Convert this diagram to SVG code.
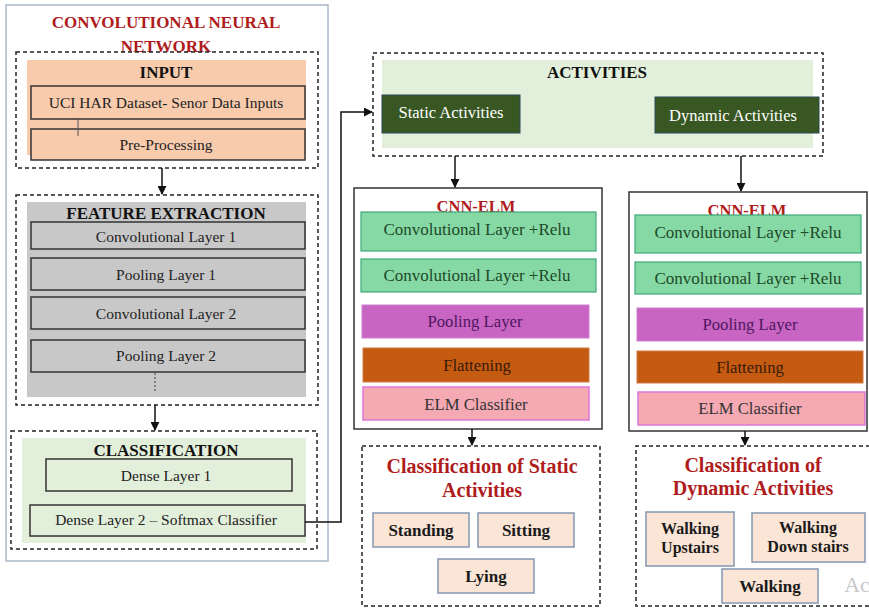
<svg xmlns="http://www.w3.org/2000/svg" width="869" height="608" viewBox="0 0 869 608">
<defs>
<marker id="ah" viewBox="0 0 10 10" refX="9" refY="5" markerWidth="6" markerHeight="6" orient="auto"><path d="M0,0 L10,5 L0,10 z" fill="#111"/></marker>
<style>
text{font-family:"Liberation Serif","DejaVu Serif",serif;text-anchor:middle;dominant-baseline:central;}
.dash{fill:none;stroke:#222;stroke-width:1.5;stroke-dasharray:4 3;}
.red{fill:#b01c1c;font-weight:bold;}
.hd{fill:#111;font-weight:bold;font-size:17px;}
.bx{stroke:#333;stroke-width:1.5;}
.t{font-size:15.5px;fill:#222;}
.cr{fill:#86d9a4;stroke:#3fa87a;stroke-width:1.2;}
.crt{font-size:17px;fill:#1d4a2a;}
.ly{font-size:16.7px;}
.act{fill:#fbe5d6;stroke:#8497b0;stroke-width:1.5;}
.actt{font-size:17px;font-weight:bold;fill:#1a1a1a;}
.actw{font-size:16px;font-weight:bold;fill:#1a1a1a;}
.ln{fill:none;stroke:#111;stroke-width:1.5;}
</style>
</defs>
<rect x="0" y="0" width="869" height="608" fill="#ffffff"/>
<g id="cnn">
<rect x="6" y="5" width="322" height="556" fill="#fff" stroke="#a9b8c8" stroke-width="1.5"/>
<text x="166" y="22" class="red" font-size="17">CONVOLUTIONAL NEURAL</text>
<text x="166" y="46" class="red" font-size="17">NETWORK</text>
</g>
<g id="input">
<rect x="16" y="52" width="302" height="116" class="dash"/>
<rect x="27" y="60" width="279" height="95" fill="#f8cbad"/>
<text x="166" y="72" class="hd">INPUT</text>
<rect x="31" y="86" width="274" height="33" fill="#f8cbad" class="bx"/>
<text x="166" y="102" class="t">UCI HAR Dataset- Senor Data Inputs</text>
<rect x="31" y="129" width="274" height="31" fill="#f8cbad" class="bx"/>
<text x="166" y="144" class="t">Pre-Processing</text>
<line x1="78" y1="118" x2="78" y2="136" stroke="#555" stroke-width="1"/>
</g>
<g id="feature">
<rect x="16" y="195" width="302" height="210" class="dash"/>
<rect x="27" y="202" width="279" height="195" fill="#c8c8c8"/>
<text x="166" y="213" class="hd">FEATURE EXTRACTION</text>
<rect x="31" y="222" width="274" height="27" fill="#c8c8c8" class="bx"/>
<text x="166" y="236" class="t">Convolutional Layer 1</text>
<rect x="31" y="258" width="274" height="32" fill="#c8c8c8" class="bx"/>
<text x="166" y="274" class="t">Pooling Layer 1</text>
<rect x="31" y="297" width="274" height="32" fill="#c8c8c8" class="bx"/>
<text x="166" y="313" class="t">Convolutional Layer 2</text>
<rect x="31" y="340" width="274" height="32" fill="#c8c8c8" class="bx"/>
<text x="166" y="355" class="t">Pooling Layer 2</text>
<line x1="155" y1="373" x2="155" y2="393" stroke="#555" stroke-width="1.2" stroke-dasharray="2 2"/>
</g>
<g id="classification">
<rect x="11" y="431" width="306" height="118" class="dash"/>
<rect x="22" y="438" width="284" height="105" fill="#e2efda"/>
<text x="166" y="450" class="hd">CLASSIFICATION</text>
<rect x="46" y="459" width="246" height="32" fill="#e2efda" class="bx"/>
<text x="166" y="475" class="t">Dense Layer 1</text>
<rect x="30" y="505" width="275" height="31" fill="#e2efda" class="bx"/>
<text x="166" y="519" class="t">Dense Layer 2 – Softmax Classifier</text>
</g>
<g id="activities">
<rect x="373" y="53" width="450" height="103" class="dash"/>
<rect x="382" y="60" width="431" height="88" fill="#e2efda"/>
<text x="597" y="72" class="hd">ACTIVITIES</text>
<rect x="382" y="95" width="138" height="38" fill="#385723" stroke="#2a4a5a" stroke-width="1"/>
<text x="451" y="112" font-size="16.5" fill="#fff">Static Activities</text>
<rect x="655" y="97" width="164" height="36" fill="#385723" stroke="#2a4a5a" stroke-width="1"/>
<text x="733" y="115" font-size="16.5" fill="#fff">Dynamic Activities</text>
</g>
<g id="cnnelm-static">
<rect x="354" y="188" width="248" height="241" fill="#fff" stroke="#333" stroke-width="1.5"/>
<text x="476" y="206" class="red" font-size="16.5">CNN-ELM</text>
<rect x="361" y="212" width="235" height="39" class="cr"/>
<text x="477" y="229" class="crt">Convolutional  Layer +Relu</text>
<rect x="361" y="259" width="235" height="33" class="cr"/>
<text x="477" y="275" class="crt">Convolutional  Layer +Relu</text>
<rect x="362" y="305" width="227" height="33" fill="#c865c2" stroke="#d07fcc" stroke-width="1"/>
<text x="475" y="321" class="ly" fill="#4f1660">Pooling Layer</text>
<rect x="363" y="348" width="226" height="34" fill="#c55a11" stroke="#d27a4a" stroke-width="1"/>
<text x="477" y="365" class="ly" fill="#3a1a08">Flattening</text>
<rect x="363" y="387" width="226" height="33" fill="#f4a9b3" stroke="#dd77d6" stroke-width="1.5"/>
<text x="476" y="404" class="ly" fill="#333">ELM Classifier</text>
</g>
<g id="cnnelm-dynamic">
<rect x="629" y="192" width="238" height="239" fill="#fff" stroke="#333" stroke-width="1.5"/>
<text x="747" y="210" class="red" font-size="16.5">CNN-ELM</text>
<rect x="635" y="215" width="226" height="38" class="cr"/>
<text x="748" y="232" class="crt">Convolutional Layer +Relu</text>
<rect x="635" y="262" width="226" height="32" class="cr"/>
<text x="748" y="278" class="crt">Convolutional Layer +Relu</text>
<rect x="637" y="308" width="226" height="33" fill="#c865c2" stroke="#d07fcc" stroke-width="1"/>
<text x="750" y="324" class="ly" fill="#4f1660">Pooling Layer</text>
<rect x="637" y="351" width="226" height="32" fill="#c55a11" stroke="#d27a4a" stroke-width="1"/>
<text x="750" y="367" class="ly" fill="#3a1a08">Flattening</text>
<rect x="638" y="392" width="227" height="33" fill="#f4a9b3" stroke="#dd77d6" stroke-width="1.5"/>
<text x="750" y="408" class="ly" fill="#333">ELM Classifier</text>
</g>
<g id="static-classes">
<rect x="362" y="446" width="238" height="160" class="dash"/>
<text x="482" y="466" class="red" font-size="20">Classification of Static</text>
<text x="482" y="490" class="red" font-size="20">Activities</text>
<rect x="373" y="513" width="96" height="34" class="act"/>
<text x="421" y="530" class="actt">Standing</text>
<rect x="478" y="513" width="96" height="34" class="act"/>
<text x="526" y="530" class="actt">Sitting</text>
<rect x="438" y="559" width="96" height="34" class="act"/>
<text x="486" y="576" class="actt">Lying</text>
</g>
<g id="dynamic-classes">
<path d="M870,446 H636 V606 H870" class="dash"/>
<text x="753" y="465" class="red" font-size="20">Classification of</text>
<text x="753" y="488" class="red" font-size="20">Dynamic Activities</text>
<rect x="646" y="512" width="88" height="54" class="act"/>
<text x="690" y="528" class="actw">Walking</text>
<text x="690" y="547" class="actw">Upstairs</text>
<rect x="752" y="513" width="113" height="49" class="act"/>
<text x="808" y="527" class="actw">Walking</text>
<text x="808" y="546" class="actw">Down stairs</text>
<rect x="722" y="569" width="96" height="34" class="act"/>
<text x="770" y="586" class="actt">Walking</text>
<text x="857" y="584" font-family="'Liberation Sans',sans-serif" font-size="22" fill="#c8c8c8">Ac</text>
</g>
<g id="connectors">
<line x1="162" y1="168" x2="162" y2="194" class="ln" marker-end="url(#ah)"/>
<line x1="155" y1="405" x2="155" y2="430" class="ln" marker-end="url(#ah)"/>
<path d="M305,522 H341 V112 H372" class="ln" marker-end="url(#ah)"/>
<line x1="455" y1="156" x2="455" y2="187" class="ln" marker-end="url(#ah)"/>
<line x1="741" y1="156" x2="741" y2="191" class="ln" marker-end="url(#ah)"/>
<line x1="472" y1="429" x2="472" y2="445" class="ln" marker-end="url(#ah)"/>
<line x1="745" y1="431" x2="745" y2="445" class="ln" marker-end="url(#ah)"/>
</g>
</svg>
